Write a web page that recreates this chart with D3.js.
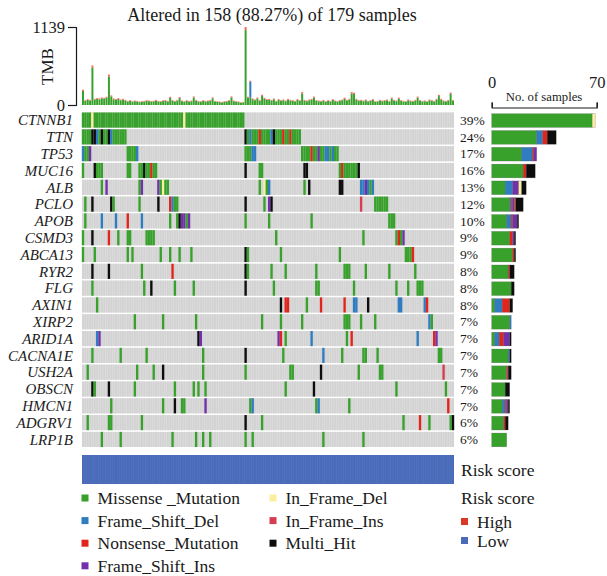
<!DOCTYPE html>
<html>
<head>
<meta charset="utf-8">
<script src="https://cdn.jsdelivr.net/npm/d3@7"></script>
<style>
  body { margin: 0; background: #fff; }
  svg { display: block; }
  text { font-family: "Liberation Serif", "DejaVu Serif", serif; fill: #1a1a1a; }
</style>
</head>
<body>
<svg id="chart" width="607" height="576"></svg>
<script>
// ---- data -------------------------------------------------------------
const genes = ["CTNNB1", "TTN", "TP53", "MUC16", "ALB", "PCLO", "APOB", "CSMD3", "ABCA13", "RYR2",
  "FLG", "AXIN1", "XIRP2", "ARID1A", "CACNA1E", "USH2A", "OBSCN", "HMCN1", "ADGRV1", "LRP1B"];

const alteredSamples = 158;
const cohortSize = 179;

// variant class code -> legend label, colour
const classCodes = ["M", "D", "N", "I", "d", "i", "H"];
const classLabels = ["Missense _Mutation", "Frame_Shift_Del", "Nonsense_Mutation", "Frame_Shift_Ins",
  "In_Frame_Del", "In_Frame_Ins", "Multi_Hit"];
const classColors = ["#37a12c", "#2f7cc0", "#e2251c", "#7231aa", "#fbef9e", "#d53e50", "#0d0d0d"];

// per-gene alterations: "<sample>[-<sample>]<class code>"
const alterations = [
  "0-3M 4d 5-42M 43d 44-68M",
  "0-3M 4H 5H 6D 7M 8H 9M 10M 11H 12D 13-18M 69H 70M 71D 72-74M 75N 76-79M 80D 81H 82-84M 85N 86M 87M 88N 89-92M",
  "0D 1M 2M 3I 19-22M 23D 69-71M 72D 73D 93-96M 97N 98M 99M 100I 101M 102M 103D 104D 105M 106D 107M 108M",
  "0M 5H 6M 7M 8M 19M 20M 24M 25M 26H 27M 28M 29N 30M 31M 69H 75M 76M 94H 95H 109M 110N 111-116M 117H",
  "8M 10I 24M 25I 32I 33M 34d 35M 36M 75M 77d 78M 79D 94M 96H 109H 110H 118D 119D 120I 121D 122M 123D",
  "1M 4H 12H 13M 24M 32H 37N 38D 39M 40M 69H 77M 79I 80H 118i 124-129M",
  "1M 8D 14D 19N 25D 37M 40M 41H 42I 43I 44M 45I 69M 79M 97M 130M 131M 132M",
  "0M 4H 11N 15M 19M 20M 27M 28M 29M 30M 82M 119M 133M 134N 135M 136I",
  "0M 5M 19M 21M 33M 37M 41M 46M 69H 70M 84M 109M 137M 138M 139M 140N",
  "4H 11H 25M 38N 69H 70M 80M 86M 99M 111M 112M 113M 120M 130M 141M",
  "4M 26M 29H 39M 47M 69H 81M 99M 100M 115M 133M 138M 142M 143M 144M",
  "6M 84H 86N 87N 95M 101N 111N 115D 116D 121H 134D 135D 145D 146N",
  "22M 34M 48M 76M 84M 93M 111M 112M 113M 118M 124M 147D 148M",
  "6D 7I 49H 50I 83I 84N 86M 97D 112M 114N 142D 149N 150I",
  "4M 16M 27M 51M 69H 85M 102D 110M 119M 120M 125M 151M 152M",
  "2M 23M 30M 34H 51M 69M 88M 89M 101H 117M 126M 127M 153i",
  "4H 5M 11H 22M 39M 47M 49M 52M 86M 98H 133M 154M",
  "12M 34M 39H 42M 43M 52I 71M 72D 99M 100D 113M 155N",
  "2M 11M 12M 25M 69H 76M 136M 143N 147M 156M 157H",
  "8M 16M 38M 48M 51M 54M 69M 72M 102M 119M"
];

// tumour mutational burden per sample (in plotted sample order)
const tmbTotal = [
  222, 70, 85, 75, 577, 90, 100, 95, 110, 105,
  120, 444, 140, 95, 85, 100, 80, 90, 75, 60,
  70, 55, 65, 60, 50, 55, 60, 70, 65, 58,
  62, 75, 60, 55, 68, 72, 60, 120, 70, 60,
  75, 115, 65, 55, 70, 60, 65, 125, 75, 60,
  55, 70, 60, 65, 70, 110, 60, 55, 50, 45,
  55, 60, 70, 125, 65, 55, 50, 40, 45, 1139,
  120, 355, 95, 80, 110, 70, 150, 105, 85, 90,
  75, 95, 60, 85, 70, 80, 65, 90, 75, 70,
  60, 85, 70, 188, 75, 65, 80, 90, 123, 70,
  65, 60, 75, 55, 70, 60, 85, 65, 60, 70,
  80, 108, 75, 90, 188, 180, 90, 70, 75, 65,
  80, 60, 70, 85, 55, 60, 75, 65, 70, 80,
  60, 108, 75, 65, 108, 70, 60, 55, 80, 65,
  60, 75, 123, 70, 60, 65, 55, 80, 70, 60,
  90, 148, 90, 65, 60, 75, 182, 70
];
const tmbNonsense = [
  18, 10, 12, 10, 30, 12, 13, 12, 14, 13,
  14, 28, 15, 12, 11, 13, 11, 12, 10, 9,
  10, 9, 10, 9, 8, 9, 9, 10, 10, 9,
  9, 11, 9, 9, 10, 10, 9, 15, 10, 9,
  11, 15, 10, 9, 10, 9, 10, 16, 11, 9,
  9, 10, 9, 10, 10, 14, 9, 9, 8, 8,
  9, 9, 10, 16, 10, 9, 8, 8, 8, 45,
  15, 16, 12, 11, 14, 10, 17, 13, 11, 12,
  10, 12, 9, 11, 10, 11, 10, 12, 10, 10,
  9, 11, 10, 22, 10, 10, 11, 12, 16, 10,
  10, 9, 10, 9, 10, 9, 11, 10, 9, 10,
  11, 15, 10, 12, 22, 20, 12, 10, 10, 10,
  11, 9, 10, 11, 9, 9, 10, 10, 10, 11,
  9, 15, 10, 10, 14, 10, 9, 9, 11, 10,
  9, 10, 16, 10, 9, 10, 9, 11, 10, 9,
  12, 18, 12, 10, 9, 10, 20, 10
];
const tmbFrameShiftDel = [[71, 230]];   // [sample, count]
const tmbMax = 1139;

// risk group annotation
const highRiskSamples = [];
const riskLevels = ["High", "Low"];
const riskColors = ["#da3a25", "#4a6bb9"];

const barMax = 70;

// ---- parse ------------------------------------------------------------
const samples = d3.range(alteredSamples);
const cells = [];
alterations.forEach((str, gi) => {
  str.trim().split(/\s+/).forEach(tok => {
    const m = tok.match(/^(\d+)(?:-(\d+))?([A-Za-z])$/);
    const a = +m[1], b = m[2] ? +m[2] : a;
    for (let s = a; s <= b; s++) cells.push({ gene: genes[gi], sample: s, code: m[3] });
  });
});
const colorOf = d3.scaleOrdinal(classCodes, classColors);

// ---- layout -----------------------------------------------------------
const svg = d3.select("#chart");
const x = d3.scaleBand(samples, [82, 454]).paddingInner(0.16);
const y = d3.scaleBand(genes, [112.5, 447]).paddingInner(0.1);

// title
svg.append("text").attr("x", 272).attr("y", 21).attr("text-anchor", "middle")
  .style("font-size", "18px")
  .text(`Altered in ${alteredSamples} (${(alteredSamples / cohortSize * 100).toFixed(2)}%) of ${cohortSize} samples`);

// ---- TMB bars ---------------------------------------------------------
const ty = d3.scaleLinear([0, tmbMax], [105, 27]);
const fsd = new Map(tmbFrameShiftDel);
const tmbG = svg.append("g");
samples.forEach(s => {
  const total = tmbTotal[s], non = tmbNonsense[s], del = fsd.get(s) || 0;
  const parts = [["M", total - non - del], ["D", del], ["N", non]];
  let acc = 0;
  parts.forEach(([code, v]) => {
    if (v <= 0) return;
    tmbG.append("rect")
      .attr("x", x(s)).attr("width", x.bandwidth())
      .attr("y", ty(acc + v)).attr("height", ty(acc) - ty(acc + v))
      .attr("fill", code === "N" ? "#ee6a5e" : colorOf(code));
    acc += v;
  });
});
const tAxis = svg.append("g").attr("transform", "translate(76,0)")
  .call(d3.axisLeft(ty).tickValues([0, tmbMax]).tickFormat(d3.format("d"))
    .tickSizeOuter(0).tickSize(8).tickPadding(3));
tAxis.selectAll("text").style("font-size", "16.5px").style("font-family", "Liberation Serif, serif").attr("fill", "#1a1a1a");
tAxis.selectAll("line, path").attr("stroke", "#1a1a1a").attr("stroke-width", 1.2);
svg.append("text").attr("transform", "translate(53,66.5) rotate(-90)")
  .attr("text-anchor", "middle").style("font-size", "17px").text("TMB");

// ---- oncoprint matrix -------------------------------------------------
const mat = svg.append("g");
genes.forEach(g => {
  mat.append("rect").attr("x", 82).attr("width", 372)
    .attr("y", y(g)).attr("height", y.bandwidth()).attr("fill", "#e4e4e4");
  mat.selectAll(null).data(samples).join("rect")
    .attr("x", s => x(s)).attr("width", x.bandwidth())
    .attr("y", y(g)).attr("height", y.bandwidth())
    .attr("fill", "#d3d3d3");
});
mat.selectAll(null).data(cells).join("rect")
  .attr("x", d => x(d.sample) - 0.2).attr("width", x.bandwidth() + 0.4)
  .attr("y", d => y(d.gene)).attr("height", y.bandwidth())
  .attr("fill", d => colorOf(d.code));

// gene names
svg.append("g").selectAll("text").data(genes).join("text")
  .attr("x", 73).attr("y", g => y(g) + y.bandwidth() / 2)
  .attr("dy", "0.35em").attr("text-anchor", "end")
  .style("font-size", "15px").style("font-style", "italic").text(g => g);

// ---- per-gene counts --------------------------------------------------
const byGene = d3.group(cells, d => d.gene);
const geneStats = genes.map(g => {
  const list = byGene.get(g) || [];
  const counts = classCodes.map(c => list.filter(d => d.code === c).length);
  return { gene: g, n: new Set(list.map(d => d.sample)).size, counts };
});

svg.append("g").selectAll("text").data(geneStats).join("text")
  .attr("x", 460).attr("y", d => y(d.gene) + y.bandwidth() / 2).attr("dy", "0.35em")
  .style("font-size", "13.5px")
  .text(d => Math.round(d.n / cohortSize * 100) + "%");

// ---- side bar chart ---------------------------------------------------
const bx = d3.scaleLinear([0, barMax], [491.7, 596.7]);
const side = svg.append("g");
geneStats.forEach(st => {
  let acc = 0;
  st.counts.forEach((c, ci) => {
    if (!c) return;
    side.append("rect")
      .attr("x", bx(acc)).attr("width", bx(acc + c) - bx(acc))
      .attr("y", y(st.gene) + 1.2).attr("height", y.bandwidth() - 1.4)
      .attr("fill", classColors[ci])
      .attr("stroke", "rgba(80,80,80,0.45)").attr("stroke-width", 0.5);
    acc += c;
  });
});
const bAxis = svg.append("g").attr("transform", "translate(0,107.5)")
  .call(d3.axisTop(bx).tickValues([0, barMax]).tickSizeOuter(0).tickSize(5).tickPadding(15));
bAxis.selectAll("text").style("font-size", "16.5px").style("font-family", "Liberation Serif, serif").attr("fill", "#1a1a1a");
bAxis.selectAll("line, path").attr("stroke", "#1a1a1a").attr("stroke-width", 1.2);
svg.append("text").attr("x", 544).attr("y", 100.5).attr("text-anchor", "middle")
  .style("font-size", "12.7px").text("No. of samples");

// ---- risk score annotation --------------------------------------------
const highSet = new Set(highRiskSamples);
const riskColor = d3.scaleOrdinal(riskLevels, riskColors);
const riskG = svg.append("g");
riskG.append("rect").attr("x", 82).attr("width", 372).attr("y", 455).attr("height", 29).attr("fill", "#5a79c2");
riskG.selectAll(null).data(samples).join("rect")
  .attr("x", s => x(s)).attr("width", x.bandwidth())
  .attr("y", 455).attr("height", 29)
  .attr("fill", s => riskColor(highSet.has(s) ? "High" : "Low"));
svg.append("text").attr("x", 461).attr("y", 470).attr("dy", "0.35em")
  .style("font-size", "17.5px").text("Risk score");

// ---- legends ----------------------------------------------------------
const leg = svg.append("g");
classLabels.forEach((lab, i) => {
  const col = Math.floor(i / 4), row = i % 4;
  const lx = col === 0 ? 81.5 : 269.5, ly = 498 + row * 22.6;
  leg.append("rect").attr("x", lx).attr("y", ly - 3.5).attr("width", 7).attr("height", 7).attr("fill", classColors[i]);
  leg.append("text").attr("x", lx + 16).attr("y", ly).attr("dy", "0.35em")
    .style("font-size", "17.5px").text(lab);
});
leg.append("text").attr("x", 461).attr("y", 498).attr("dy", "0.35em")
  .style("font-size", "17.5px").text("Risk score");
riskLevels.forEach((lab, i) => {
  const ly = 521.5 + i * 19;
  leg.append("rect").attr("x", 461).attr("y", ly - 3.5).attr("width", 7).attr("height", 7).attr("fill", riskColors[i]);
  leg.append("text").attr("x", 477).attr("y", ly).attr("dy", "0.35em")
    .style("font-size", "17.5px").text(lab);
});
</script>
</body>
</html>
